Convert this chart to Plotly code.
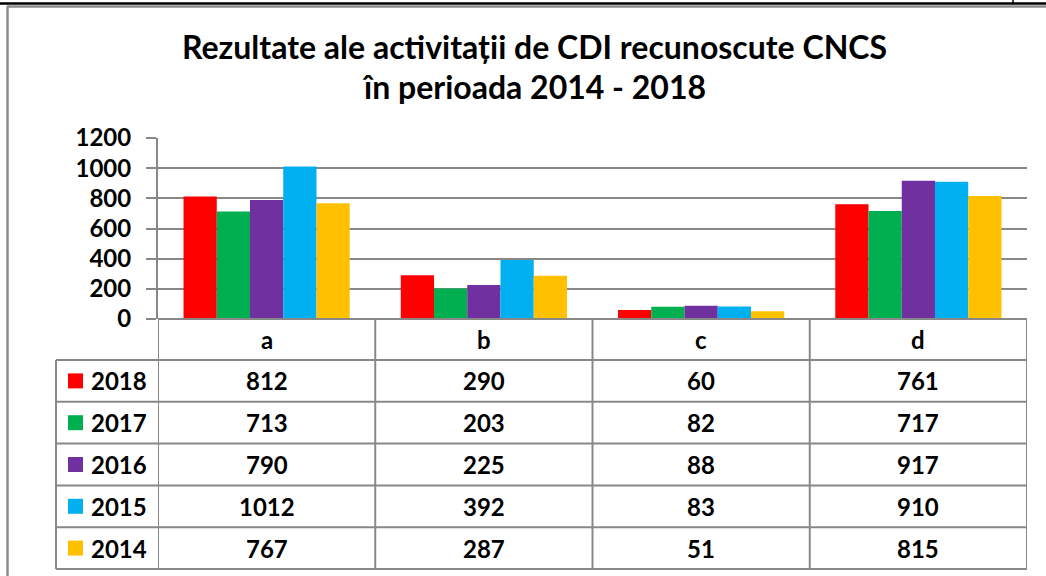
import plotly.graph_objects as go

categories = ["a", "b", "c", "d"]
years = ["2018", "2017", "2016", "2015", "2014"]
values = {
    "2018": [812, 290, 60, 761],
    "2017": [713, 203, 82, 717],
    "2016": [790, 225, 88, 917],
    "2015": [1012, 392, 83, 910],
    "2014": [767, 287, 51, 815],
}
colors = {
    "2018": "#FF0000",
    "2017": "#00B050",
    "2016": "#7030A0",
    "2015": "#00B0F0",
    "2014": "#FFC000",
}
title_lines = ["Rezultate ale activitații de CDI recunoscute CNCS", "în perioada 2014 - 2018"]
y_ticks = [0, 200, 400, 600, 800, 1000, 1200]

W, H = 1046, 576
FONT = "Lato"
GRID = "#888888"


def px(x):
    return x / W


def py(y):
    return 1 - y / H


plot_left, plot_right = 158, 1027
plot_top, plot_bottom = 138, 319
header_bottom = 360
row_h = 41.8
leg_left = 56

fig = go.Figure()
for yr in years:
    fig.add_trace(go.Bar(
        x=categories, y=values[yr], name=yr,
        marker=dict(color=colors[yr], line=dict(width=0)),
        showlegend=False,
    ))

shapes = []
annotations = []

# outer page / chart border
shapes.append(dict(type="line", xref="paper", yref="paper", x0=0, x1=1, y0=py(3.5), y1=py(3.5),
                   line=dict(color="black", width=2.5)))
shapes.append(dict(type="line", xref="paper", yref="paper", x0=px(1013), x1=px(1013), y0=py(0), y1=py(3.5),
                   line=dict(color="black", width=1.5)))
shapes.append(dict(type="line", xref="paper", yref="paper", x0=px(7), x1=1, y0=py(6.5), y1=py(6.5),
                   line=dict(color="#8c8c8c", width=2.5)))
shapes.append(dict(type="line", xref="paper", yref="paper", x0=px(7.5), x1=px(7.5), y0=py(6.5), y1=0,
                   line=dict(color="#8c8c8c", width=2.5)))

# table
n_rows = len(years)
table_bottom = header_bottom + n_rows * row_h
shapes.append(dict(type="line", xref="paper", yref="paper", x0=px(plot_left), x1=px(plot_right),
                   y0=py(plot_bottom), y1=py(plot_bottom), line=dict(color=GRID, width=2)))
for i in range(n_rows + 1):
    yy = header_bottom + i * row_h
    shapes.append(dict(type="line", xref="paper", yref="paper", x0=px(leg_left), x1=px(plot_right),
                       y0=py(yy), y1=py(yy), line=dict(color=GRID, width=2)))
for k in range(len(categories) + 1):
    shapes.append(dict(type="line", xref="x", yref="paper", x0=k - 0.5, x1=k - 0.5,
                       y0=py(plot_bottom), y1=py(table_bottom), line=dict(color=GRID, width=2)))
shapes.append(dict(type="line", xref="paper", yref="paper", x0=px(leg_left), x1=px(leg_left),
                   y0=py(header_bottom), y1=py(table_bottom), line=dict(color=GRID, width=2)))

for k, c in enumerate(categories):
    annotations.append(dict(x=c, xref="x", y=py((plot_bottom + header_bottom) / 2), yref="paper",
                            text=c, showarrow=False, xanchor="center", yanchor="middle",
                            font=dict(family=FONT, size=24, color="black", weight="bold")))

for i, yr in enumerate(years):
    yc = header_bottom + (i + 0.5) * row_h
    shapes.append(dict(type="rect", xref="paper", yref="paper", x0=px(68), x1=px(83),
                       y0=py(yc - 7.5), y1=py(yc + 7.5), fillcolor=colors[yr], line=dict(width=0)))
    annotations.append(dict(x=px(89), xref="paper", y=py(yc), yref="paper", text=yr,
                            showarrow=False, xanchor="left", yanchor="middle",
                            font=dict(family=FONT, size=24, color="black", weight="bold")))
    for k, c in enumerate(categories):
        annotations.append(dict(x=c, xref="x", y=py(yc), yref="paper", text=str(values[yr][k]),
                                showarrow=False, xanchor="center", yanchor="middle",
                                font=dict(family=FONT, size=24, color="black", weight="bold")))

for j, (t, yc) in enumerate(zip(title_lines, [46, 86])):
    annotations.append(dict(x=px(534), xref="paper", y=py(yc), yref="paper", text=t,
                            showarrow=False, xanchor="center", yanchor="middle",
                            font=dict(family=FONT, size=32, color="black", weight="bold")))

fig.update_layout(
    width=W, height=H,
    margin=dict(l=0, r=0, t=0, b=0, pad=0, autoexpand=False),
    paper_bgcolor="white", plot_bgcolor="white",
    barmode="group", bargap=0.235, bargroupgap=0,
    shapes=shapes, annotations=annotations,
    xaxis=dict(domain=[px(plot_left), px(plot_right)], range=[-0.5, len(categories) - 0.5],
               showticklabels=False, showgrid=False, showline=False, zeroline=False, ticks="",
               automargin=False),
    yaxis=dict(domain=[py(plot_bottom), py(plot_top)], range=[0, 1200.5],
               tickvals=y_ticks, ticktext=[str(v) for v in y_ticks],
               showgrid=True, gridcolor=GRID, gridwidth=2,
               zeroline=False, showline=True, linecolor=GRID, linewidth=2,
               ticks="outside", ticklen=10, tickcolor=GRID, tickwidth=2,
               ticklabelstandoff=10, automargin=False,
               tickfont=dict(family=FONT, size=24, color="black", weight="bold")),
)

post = ("document.documentElement.style.margin='0';document.body.style.margin='0';"
        "document.body.style.padding='0';document.body.style.overflow='hidden';")

fig.write_html("out.html", post_script=post, config={"displayModeBar": False})
